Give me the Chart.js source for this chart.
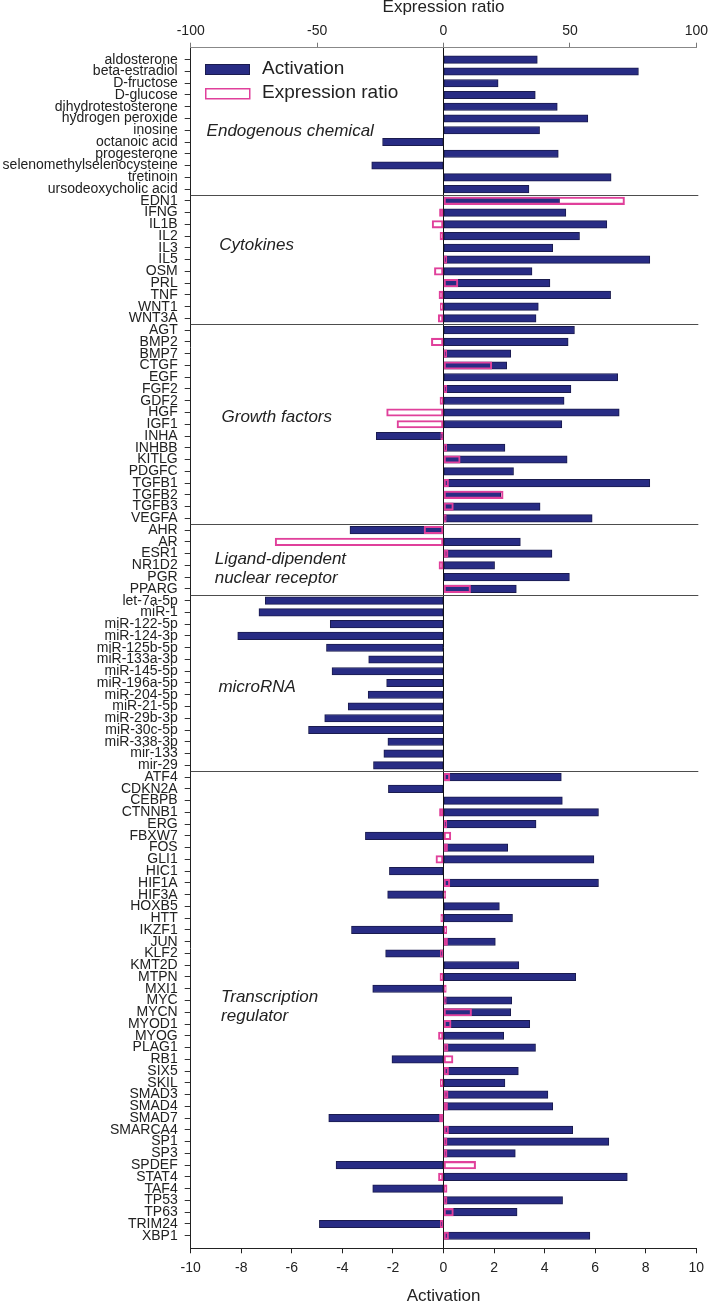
<!DOCTYPE html>
<html><head><meta charset="utf-8">
<script src="https://cdn.jsdelivr.net/npm/chart.js@4.4.1/dist/chart.umd.min.js"></script>
<style>html,body{margin:0;padding:0;background:#fff}canvas{display:block}</style>
</head><body>
<canvas id="c" width="711" height="1304"></canvas>
<script>
const categories = [
 "aldosterone","beta-estradiol","D-fructose","D-glucose","dihydrotestosterone","hydrogen peroxide","inosine","octanoic acid","progesterone","selenomethylselenocysteine","tretinoin","ursodeoxycholic acid",
 "EDN1","IFNG","IL1B","IL2","IL3","IL5","OSM","PRL","TNF","WNT1","WNT3A",
 "AGT","BMP2","BMP7","CTGF","EGF","FGF2","GDF2","HGF","IGF1","INHA","INHBB","KITLG","PDGFC","TGFB1","TGFB2","TGFB3","VEGFA",
 "AHR","AR","ESR1","NR1D2","PGR","PPARG",
 "let-7a-5p","miR-1","miR-122-5p","miR-124-3p","miR-125b-5p","miR-133a-3p","miR-145-5p","miR-196a-5p","miR-204-5p","miR-21-5p","miR-29b-3p","miR-30c-5p","miR-338-3p","mir-133","mir-29",
 "ATF4","CDKN2A","CEBPB","CTNNB1","ERG","FBXW7","FOS","GLI1","HIC1","HIF1A","HIF3A","HOXB5","HTT","IKZF1","JUN","KLF2","KMT2D","MTPN","MXI1","MYC","MYCN","MYOD1","MYOG","PLAG1","RB1","SIX5","SKIL","SMAD3","SMAD4","SMAD7","SMARCA4","SP1","SP3","SPDEF","STAT4","TAF4","TP53","TP63","TRIM24","XBP1"
];
const activation = [
 3.71,7.71,2.16,3.63,4.50,5.71,3.80,-2.41,4.54,-2.84,6.63,3.38,
 4.59,4.84,6.46,5.38,4.32,8.16,3.50,4.21,6.61,3.75,3.66,
 5.18,4.93,2.66,2.50,6.89,5.04,4.77,6.95,4.68,-2.66,2.43,4.89,2.77,8.16,2.27,3.82,5.88,
 -3.70,3.04,4.29,2.02,4.98,2.88,
 -7.05,-7.30,-4.48,-8.14,-4.63,-2.96,-4.41,-2.25,-2.98,-3.77,-4.70,-5.34,-2.20,-2.36,-2.77,
 4.66,-2.18,4.70,6.13,3.66,-3.09,2.54,5.95,-2.14,6.13,-2.21,2.21,2.73,-3.64,2.05,-2.29,2.98,5.23,-2.80,2.70,2.66,3.41,2.38,3.64,-2.04,2.96,2.43,4.13,4.32,-4.54,5.11,6.54,2.84,-4.25,7.27,-2.80,4.71,2.91,-4.91,5.79
];
const expressionRatio = [
 null,null,null,null,null,null,null,null,null,null,null,null,
 71.6,-1.6,-4.5,-1.4,null,1.25,-3.6,5.7,-1.8,-1.25,-2.1,
 null,-4.8,1.25,19.1,null,1.25,-1.4,-22.5,-18.4,-1.1,1.25,6.6,null,2.0,23.6,3.9,1.1,
 -7.7,-66.6,1.8,-1.8,null,10.7,
 null,null,null,null,null,null,null,null,null,null,null,null,null,null,null,
 2.5,null,null,-1.6,1.25,2.9,1.6,-3.0,null,2.5,0.9,null,-1.1,1.25,1.6,-1.25,null,-1.4,1.1,1.1,11.1,3.0,-2.0,1.8,3.75,2.0,-1.25,1.8,1.6,-1.6,2.0,1.4,1.4,12.7,-2.0,1.4,1.4,3.9,-1.25,2.0
];
const groupSizes = [12,11,17,6,15,40];
const groupLabels = [["Endogenous chemical"],["Cytokines"],["Growth factors"],["Ligand-dipendent","nuclear receptor"],["microRNA"],["Transcription","regulator"]];
const activationTicks = [-10,-8,-6,-4,-2,0,2,4,6,8,10];
const expressionTicks = [-100,-50,0,50,100];
const seriesNames = ["Activation","Expression ratio"];

const NAVY = '#282c84', NAVY_EDGE = '#1a1b4e', PINK = '#e0409b';
const FONT = '"Liberation Sans", Arial, sans-serif';

// layout of group captions (value on index axis, pixel x)
const groupCaptionPos = [
  {x: 206.6, v: 6.12}, {x: 219.3, v: 15.76}, {x: 221.5, v: 30.4},
  {x: 214.7, v: 42.5}, {x: 218.4, v: 53.4}, {x: 221.1, v: 79.76}
];

const decorPlugin = {
  id: 'decor',
  beforeDatasetsDraw(chart) {
    const {ctx, chartArea} = chart;
    const y = chart.scales.y;
    ctx.save();
    ctx.strokeStyle = '#4d4d4d';
    ctx.lineWidth = 1;
    let acc = 0;
    for (let g = 0; g < groupSizes.length - 1; g++) {
      acc += groupSizes[g];
      const py = Math.round(y.getPixelForValue(acc - 0.5)) + 0.5;
      ctx.beginPath();
      ctx.moveTo(chartArea.left, py);
      ctx.lineTo(chartArea.right + 2, py);
      ctx.stroke();
    }
    ctx.restore();
  },
  afterDraw(chart) {
    const {ctx} = chart;
    const y = chart.scales.y;
    ctx.save();
    ctx.fillStyle = '#222';
    ctx.font = 'italic 17px ' + FONT;
    ctx.textAlign = 'left';
    ctx.textBaseline = 'middle';
    groupLabels.forEach((lines, g) => {
      const p = groupCaptionPos[g];
      const base = y.getPixelForValue(p.v);
      lines.forEach((t, k) => ctx.fillText(t, p.x, base + k * 18.4));
    });
    // legend
    ctx.font = '19px ' + FONT;
    ctx.fillStyle = NAVY;
    ctx.fillRect(205, 64, 45, 11);
    ctx.strokeStyle = NAVY_EDGE; ctx.lineWidth = 1;
    ctx.strokeRect(205.5, 64.5, 44, 10);
    ctx.strokeStyle = PINK; ctx.lineWidth = 1.5;
    ctx.strokeRect(205.75, 88.75, 44, 10);
    ctx.fillStyle = '#222';
    ctx.fillText(seriesNames[0], 262, 69);
    ctx.fillText(seriesNames[1], 262, 93);
    ctx.restore();
  }
};

const actData = activation.map((v, i) => ({x: v, y: i}));
const expData = expressionRatio.map((v, i) => ({x: v, y: i}));

new Chart(document.getElementById('c'), {
  type: 'bar',
  data: {
    datasets: [
      {label: seriesNames[0], data: actData, xAxisID: 'x', yAxisID: 'y', order: 2,
       backgroundColor: NAVY, borderColor: NAVY_EDGE, borderWidth: 1, borderSkipped: false,
       barThickness: 7.5, grouped: false},
      {label: seriesNames[1], data: expData, xAxisID: 'x2', yAxisID: 'y', order: 1,
       backgroundColor: 'rgba(0,0,0,0)', borderColor: PINK, borderWidth: 1.4, borderSkipped: false,
       barThickness: 7.5, grouped: false}
    ]
  },
  options: {
    indexAxis: 'y',
    responsive: false,
    animation: false,
    events: [],
    layout: {padding: {left: 0, right: 12.3, top: 0, bottom: 0}},
    plugins: {legend: {display: false}, tooltip: {enabled: false}},
    scales: {
      y: {
        type: 'linear', reverse: true, min: -1.02, max: 101.07, position: 'left', offset: false,
        afterBuildTicks: s => { s.ticks = categories.map((_, i) => ({value: i})); },
        afterFit: s => { s.width = 190.7; },
        ticks: {autoSkip: false, padding: 7, color: '#222', font: {family: FONT, size: 14},
                callback: v => (Number.isInteger(v) && categories[v] !== undefined) ? categories[v] : ''},
        grid: {offset: false, drawOnChartArea: false, drawTicks: true, tickLength: 6, tickColor: '#333'},
        border: {display: true, color: '#222', width: 1}
      },
      x: {
        type: 'linear', position: 'bottom', min: activationTicks[0], max: activationTicks[activationTicks.length - 1],
        afterBuildTicks: s => { s.ticks = activationTicks.map(v => ({value: v})); },
        afterFit: s => { s.height = 55.7; },
        ticks: {padding: 6, color: '#222', font: {family: FONT, size: 14}},
        grid: {color: c => (c.tick && c.tick.value === 0) ? '#111' : 'rgba(0,0,0,0)', lineWidth: 1,
               tickLength: 5, tickColor: '#222', drawTicks: true},
        border: {display: true, color: '#222', width: 1},
        title: {display: true, text: 'Activation', color: '#222', font: {family: FONT, size: 17, lineHeight: 0.88}, padding: 0}
      },
      x2: {
        type: 'linear', position: 'top', min: expressionTicks[0], max: expressionTicks[expressionTicks.length - 1],
        afterBuildTicks: s => { s.ticks = expressionTicks.map(v => ({value: v})); },
        afterFit: s => { s.height = 47.7; },
        ticks: {padding: 3, color: '#222', font: {family: FONT, size: 14}},
        grid: {drawOnChartArea: false, tickLength: 5, tickColor: '#777', drawTicks: true},
        border: {display: true, color: '#888', width: 1},
        title: {display: true, text: 'Expression ratio', color: '#222', font: {family: FONT, size: 17, lineHeight: 0.9}, padding: 0}
      }
    }
  },
  plugins: [decorPlugin]
});
</script>
</body></html>
